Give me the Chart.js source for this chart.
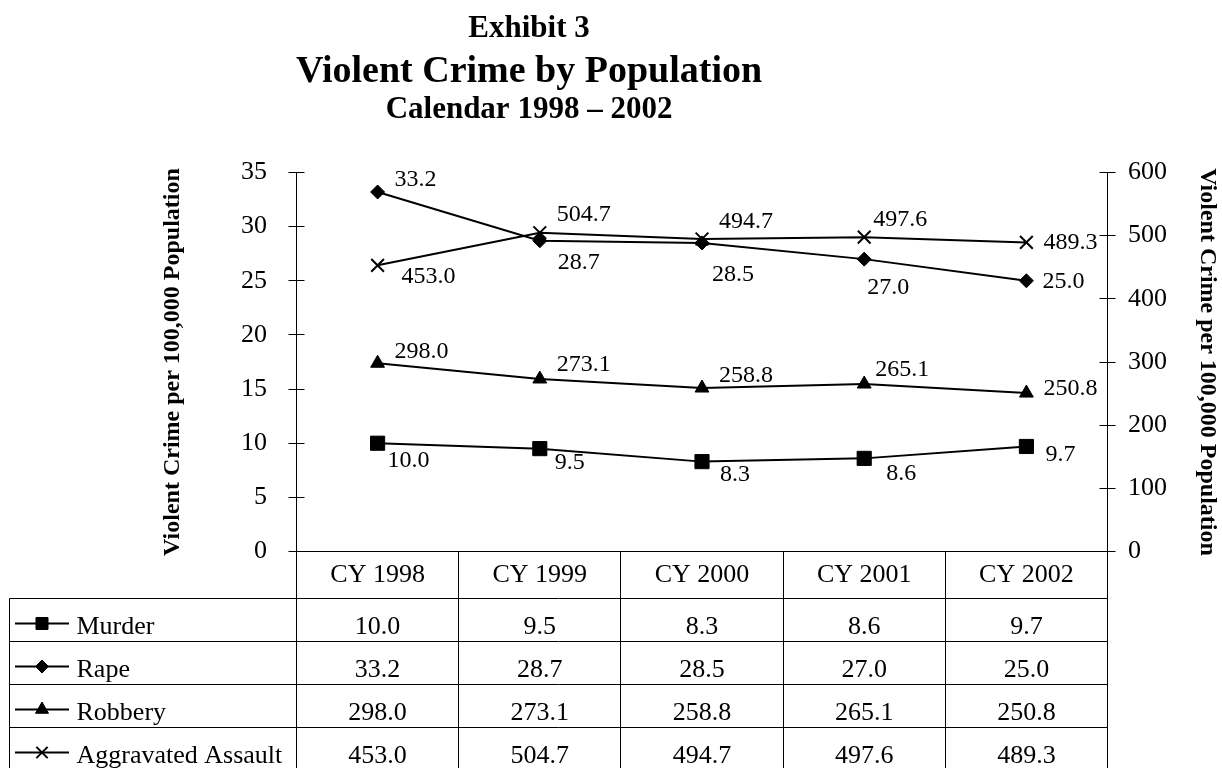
<!DOCTYPE html>
<html>
<head>
<meta charset="utf-8">
<script src="https://cdn.jsdelivr.net/npm/chart.js@4.4.1/dist/chart.umd.min.js"></script>
<style>
html,body{margin:0;padding:0;background:#ffffff;}
#wrap{width:1222px;height:768px;}
</style>
</head>
<body>
<div id="wrap"><canvas id="c" width="1222" height="768"></canvas></div>
<script>
// ---------- data ----------
const categories = ['CY 1998', 'CY 1999', 'CY 2000', 'CY 2001', 'CY 2002'];
const murder = [10.0, 9.5, 8.3, 8.6, 9.7];
const rape = [33.2, 28.7, 28.5, 27.0, 25.0];
const robbery = [298.0, 273.1, 258.8, 265.1, 250.8];
const aggravatedAssault = [453.0, 504.7, 494.7, 497.6, 489.3];
const seriesNames = ['Murder', 'Rape', 'Robbery', 'Aggravated Assault'];
const leftAxisRange = [0, 35, 5];
const rightAxisRange = [0, 600, 100];
const titleLines = ['Exhibit 3', 'Violent Crime by Population', 'Calendar 1998 \u2013 2002'];
const axisTitleText = 'Violent Crime per 100,000 Population';

// ---------- styles ----------
const FONT = "'Times New Roman','Liberation Serif',serif";
const seriesStyle = [
  { axis: 'y',  pointStyle: 'rect',     radius: 10, borderWidth: 1, legendRadius: 8.5 },
  { axis: 'y',  pointStyle: 'rectRot',  radius: 7,  borderWidth: 1, legendRadius: 6.5 },
  { axis: 'y1', pointStyle: 'triangle', radius: 8,  borderWidth: 1, legendRadius: 7.5 },
  { axis: 'y1', pointStyle: 'crossRot', radius: 9,  borderWidth: 2, legendRadius: 8 }
];
// label offsets relative to the point (left edge dx, vertical centre dy)
const labelOffsets = [
  [[10, 17], [15, 14], [18, 13], [22, 15], [19, 8]],
  [[17, -12], [18, 22], [10, 32], [3, 29], [16, 1]],
  [[17, -12], [17, -14], [17, -12], [11, -14], [17, -4]],
  [[24, 11], [17, -18], [17, -17], [9, -17], [17, 0]]
];
const seriesData = [murder, rape, robbery, aggravatedAssault];

function alignPx(v, w) { const h = (w || 1) / 2; return Math.round(v - h) + h; }
function seg(ctx, x1, y1, x2, y2) { ctx.beginPath(); ctx.moveTo(x1, y1); ctx.lineTo(x2, y2); ctx.stroke(); }

const titlePlugin = {
  id: 'titleLines',
  afterDraw(chart) {
    const ctx = chart.ctx;
    const specs = [[31, 37], [38, 82], [31, 118]];
    ctx.save();
    ctx.fillStyle = '#000';
    ctx.textAlign = 'center';
    ctx.textBaseline = 'alphabetic';
    titleLines.forEach((t, i) => {
      ctx.font = 'bold ' + specs[i][0] + 'px ' + FONT;
      ctx.fillText(t, 529, specs[i][1]);
    });
    ctx.restore();
  }
};

const innerTickPlugin = {
  id: 'innerTicks',
  afterDraw(chart) {
    const ctx = chart.ctx;
    const area = chart.chartArea;
    ctx.save();
    ctx.strokeStyle = '#000';
    ctx.lineWidth = 1;
    const l = alignPx(area.left), r = alignPx(area.right);
    chart.scales.y.ticks.forEach(t => {
      const y = alignPx(chart.scales.y.getPixelForValue(t.value));
      seg(ctx, l, y, l + 8, y);
    });
    chart.scales.y1.ticks.forEach(t => {
      const y = alignPx(chart.scales.y1.getPixelForValue(t.value));
      seg(ctx, r - 8, y, r, y);
    });
    ctx.restore();
  }
};

const labelPlugin = {
  id: 'pointLabels',
  afterDatasetsDraw(chart) {
    const ctx = chart.ctx;
    ctx.save();
    ctx.fillStyle = '#000';
    ctx.font = '24px ' + FONT;
    ctx.textAlign = 'left';
    ctx.textBaseline = 'middle';
    chart.data.datasets.forEach((ds, di) => {
      const meta = chart.getDatasetMeta(di);
      meta.data.forEach((pt, i) => {
        const off = labelOffsets[di][i];
        ctx.fillText(ds.data[i].toFixed(1), pt.x + off[0], pt.y + off[1]);
      });
    });
    ctx.restore();
  }
};

const tablePlugin = {
  id: 'dataTable',
  afterDraw(chart) {
    const ctx = chart.ctx;
    const xs = chart.scales.x;
    const area = chart.chartArea;
    const n = categories.length;
    const step = xs.getPixelForValue(1) - xs.getPixelForValue(0);
    const bounds = [];
    for (let i = 0; i < n; i++) bounds.push(xs.getPixelForValue(i) - step / 2);
    bounds.push(xs.getPixelForValue(n - 1) + step / 2);
    const H = chart.height;
    const headerH = 47;
    const rowH = 43;
    const top0 = area.bottom + headerH;
    const tableLeft = 9.5;
    ctx.save();
    ctx.strokeStyle = '#000';
    ctx.lineWidth = 1;
    bounds.forEach(b => seg(ctx, alignPx(b), alignPx(area.bottom), alignPx(b), H));
    seg(ctx, alignPx(tableLeft), alignPx(top0), alignPx(tableLeft), H);
    for (let r = 0; r <= seriesNames.length; r++) {
      const y = alignPx(top0 + r * rowH);
      seg(ctx, alignPx(tableLeft), y, alignPx(bounds[n]), y);
    }
    ctx.fillStyle = '#000';
    ctx.font = '26px ' + FONT;
    ctx.textBaseline = 'alphabetic';
    seriesNames.forEach((name, r) => {
      const rt = top0 + r * rowH;
      const cy = rt + 25;
      // legend key
      ctx.lineWidth = 2;
      ctx.strokeStyle = '#000';
      seg(ctx, 15, cy, 69, cy);
      const st = seriesStyle[r];
      ctx.lineWidth = st.borderWidth;
      ctx.fillStyle = '#000';
      Chart.helpers.drawPoint(ctx, { pointStyle: st.pointStyle, radius: st.legendRadius, borderWidth: st.borderWidth, rotation: 0 }, 42, cy);
      ctx.textAlign = 'left';
      ctx.fillText(name, 76.5, rt + 35.5);
      ctx.textAlign = 'center';
      seriesData[r].forEach((v, i) => {
        ctx.fillText(v.toFixed(1), xs.getPixelForValue(i), rt + 35.5);
      });
    });
    ctx.restore();
  }
};

const datasets = seriesNames.map((name, i) => ({
  label: name,
  data: seriesData[i],
  yAxisID: seriesStyle[i].axis,
  borderColor: '#000',
  backgroundColor: '#000',
  borderWidth: 2,
  tension: 0,
  fill: false,
  pointStyle: seriesStyle[i].pointStyle,
  pointRadius: seriesStyle[i].radius,
  pointHoverRadius: seriesStyle[i].radius,
  pointBackgroundColor: '#000',
  pointBorderColor: '#000',
  pointBorderWidth: seriesStyle[i].borderWidth,
  clip: false
}));

new Chart(document.getElementById('c'), {
  type: 'line',
  data: { labels: categories, datasets: datasets },
  plugins: [titlePlugin, innerTickPlugin, labelPlugin, tablePlugin],
  options: {
    responsive: false,
    animation: false,
    events: [],
    layout: { padding: { top: 172.5, left: 0, right: 0, bottom: 0 } },
    plugins: { legend: { display: false }, tooltip: { enabled: false }, title: { display: false } },
    scales: {
      x: {
        type: 'category',
        offset: true,
        grid: { display: false, drawTicks: false },
        border: { display: true, color: '#000', width: 1 },
        ticks: { color: '#000', font: { family: FONT, size: 26 }, padding: 8, maxRotation: 0, autoSkip: false },
        afterFit(s) { s.height = 216.5; }
      },
      y: {
        position: 'left',
        min: leftAxisRange[0], max: leftAxisRange[1],
        ticks: { stepSize: leftAxisRange[2], color: '#000', font: { family: FONT, size: 26 }, padding: 21.5 },
        grid: { drawOnChartArea: false, drawTicks: true, tickLength: 8, color: '#000', lineWidth: 1 },
        border: { display: true, color: '#000', width: 1 },
        title: { display: true, text: axisTitleText, color: '#000', font: { family: FONT, size: 24, weight: 'bold' }, padding: { top: 158, bottom: 0 } },
        afterFit(s) { s.width = 296.5; }
      },
      y1: {
        position: 'right',
        min: rightAxisRange[0], max: rightAxisRange[1],
        ticks: { stepSize: rightAxisRange[2], color: '#000', font: { family: FONT, size: 26 }, padding: 12.5 },
        grid: { drawOnChartArea: false, drawTicks: true, tickLength: 8, color: '#000', lineWidth: 1 },
        border: { display: true, color: '#000', width: 1 },
        title: { display: true, text: axisTitleText, color: '#000', font: { family: FONT, size: 24, weight: 'bold' }, padding: { top: 0, bottom: 0 } },
        afterFit(s) { s.width = 114.5; }
      }
    }
  }
});
</script>
</body>
</html>
